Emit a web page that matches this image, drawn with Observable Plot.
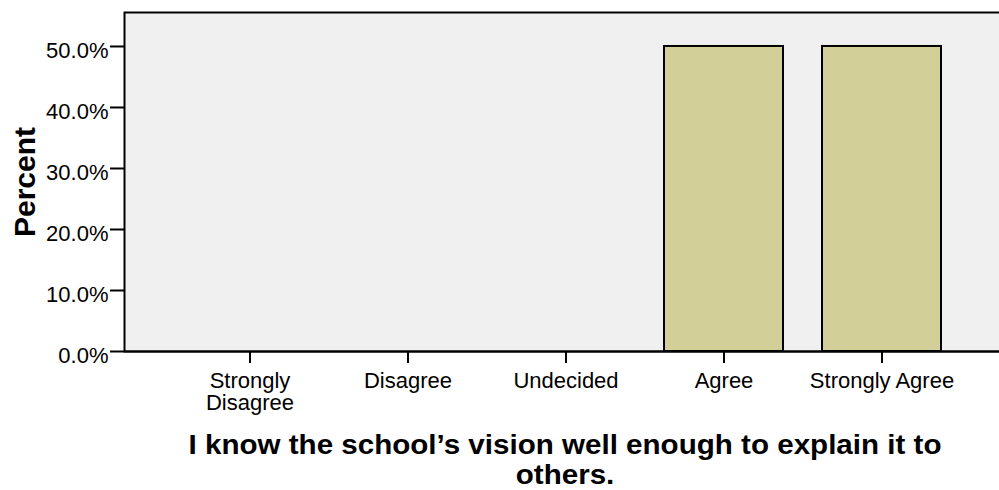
<!DOCTYPE html>
<html>
<head>
<meta charset="utf-8">
<script src="https://cdn.jsdelivr.net/npm/d3@7"></script>
<script src="https://cdn.jsdelivr.net/npm/@observablehq/plot@0.6"></script>
<style>
  body { margin: 0; background: #fff; overflow: hidden; }
</style>
</head>
<body>
<div id="chart"></div>
<script>
const categories = ["Strongly Disagree", "Disagree", "Undecided", "Agree", "Strongly Agree"];
const percents = [0, 0, 0, 50, 50];
const yTicks = [0, 10, 20, 30, 40, 50];
const tickLabels = ["Strongly\nDisagree", "Disagree", "Undecided", "Agree", "Strongly Agree"];
const yLabel = "Percent";
const xTitle = "I know the school\u2019s vision well enough to explain it to\nothers.";

const data = categories.map((c, i) => ({category: c, percent: percents[i]}));
const labelOf = new Map(categories.map((c, i) => [c, tickLabels[i]]));

const chart = Plot.plot({
  width: 999,
  height: 490,
  marginLeft: 124,
  marginTop: 12,
  marginBottom: 139,
  marginRight: -10,
  style: {fontFamily: "'Liberation Sans', Arial, sans-serif", fontSize: "22px", color: "black", background: "white", overflow: "visible"},
  x: {domain: categories, range: [124, 1006], paddingInner: 0.25, paddingOuter: 0.407, label: null},
  y: {domain: [0, 55.57], label: null},
  marks: [
    Plot.frame({fill: "#f0f0f0", stroke: "black", strokeWidth: 2}),
    Plot.barY(data, {x: "category", y: "percent", fill: "#d3cf98", stroke: "black", strokeWidth: 2}),
    Plot.axisY(yTicks, {tickSize: 14, tickFormat: () => "", strokeWidth: 2, label: null}),
    Plot.axisY(yTicks, {tickSize: 0, tickPadding: 16, tickFormat: d => d.toFixed(1) + "%", label: null, dy: 4}),
    Plot.axisX({tickSize: 12, tickPadding: 9, tickFormat: d => labelOf.get(d), strokeWidth: 2, label: null}),
    Plot.ruleY([0], {strokeWidth: 2}),
    Plot.text([yLabel], {frameAnchor: "left", textAnchor: "middle", lineAnchor: "middle", dx: -99, rotate: -90, fontWeight: "bold", fontSize: 30}),
    Plot.text([xTitle], {frameAnchor: "bottom", lineAnchor: "top", dy: 81, dx: -2, fontWeight: "bold", fontSize: 28, lineHeight: 1.07, className: "xtitle"})
  ]
});
document.getElementById("chart").appendChild(chart);

// condense the title horizontally to match the original narrow bold face
const tspans = d3.select(chart).selectAll(".xtitle tspan").nodes();
if (tspans.length) {
  const w = tspans[0].getComputedTextLength();
  const f = 753 / w;
  tspans.forEach(t => {
    const tw = t.getComputedTextLength();
    t.setAttribute("textLength", tw * f);
    t.setAttribute("lengthAdjust", "spacingAndGlyphs");
  });
}
</script>
</body>
</html>
